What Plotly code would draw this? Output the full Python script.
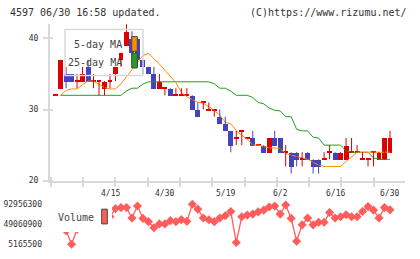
import plotly.graph_objects as go

# ---------------- data ----------------
dates = ["4/1","4/2","4/3","4/4","4/7","4/8","4/9","4/10","4/11","4/14","4/15","4/16","4/17","4/18","4/21","4/22","4/23","4/24","4/25","4/28","4/30",
         "5/1","5/2","5/7","5/8","5/9","5/12","5/13","5/14","5/15","5/16","5/19","5/20","5/21","5/22","5/23","5/26","5/27","5/28","5/29","5/30",
         "6/2","6/3","6/4","6/5","6/6","6/9","6/10","6/11","6/12","6/13","6/16","6/17","6/18","6/19","6/20","6/23","6/24","6/25","6/26","6/27","6/30"]

opens = [32,33,35,35,34,34,36,34,34,33, 34,35,37,39,40,40,37,36,35,33,
         33,33,32,32,32,32,30,31,30,30, 29,28,27,26,27,26,26,25,25,24,
         26,26,24,24,24,23,24,23,23,23, 24,24,23,23,24,24,23,23,24,23,
         23,24]
highs = [32,37,36,35,35,36,37,35,34,34, 35,36,38,42,41,40,37,36,36,35,
         33,33,33,33,33,32,31,31,31,30, 30,29,27,27,27,26,27,25,25,26,
         27,26,25,24,24,24,24,23,23,24, 25,24,24,26,26,25,24,23,24,24,
         26,27]
lows = [32,33,33,34,33,34,34,33,32,32, 33,34,36,39,37,36,35,35,33,33,
        32,32,32,32,32,30,29,30,30,29, 28,27,24,25,25,26,25,25,24,24,
        25,24,22,21,22,22,23,21,21,23, 23,23,23,23,24,24,23,22,22,23,
        23,24]
closes = [32,37,34,34,34,35,34,34,34,34, 34,36,38,41,38,37,36,35,33,34,
          33,32,32,32,32,30,29,31,30,30, 28,27,25,26,27,26,25,25,24,26,
          25,24,24,22,23,23,23,22,22,23, 24,23,24,25,24,24,23,23,24,24,
          26,26]

ma5 = [None,32.0,32.7,32.9,32.9,33.5,34.0,34.0,33.6,33.1,
       32.9,32.9,33.6,34.6,35.6,36.6,37.6,37.9,37.2,36.4,
       35.5,34.6,33.8,32.4,31.8,31.4,31.0,30.9,30.4,29.9,
       29.2,28.2,28.0,27.0,26.4,25.8,25.0,25.0,24.8,24.6,
       24.6,24.5,23.8,23.6,23.3,23.2,23.0,22.6,22.2,22.0,
       22.0,22.0,22.0,22.7,23.4,24.0,24.0,24.0,24.0,24.0,
       24.0,24.0]
ma25 = [None,32.0,32.0,32.0,32.0,32.0,32.0,32.0,32.0,32.0,
        32.0,32.0,32.0,32.6,33.0,33.0,33.6,33.9,33.9,33.9,
        33.9,33.9,33.9,33.9,33.9,33.9,33.9,33.9,33.9,33.6,
        33.0,33.0,32.6,32.0,32.0,32.0,31.7,31.0,30.8,30.2,
        29.9,29.8,29.0,29.0,27.2,27.0,27.0,26.1,26.0,25.0,
        25.0,25.0,25.0,24.2,24.0,24.0,24.0,24.0,23.2,23.0,
        23.0,23.0]

volume = [70000000,85000000,35000000,5165500,38000000,65000000,72000000,58000000,62000000,52000000,
          66000000,83500000,85600000,85600000,62800000,89300000,61900000,54800000,41200000,49800000,
          49800000,56900000,54800000,59100000,55400000,92956300,82200000,62800000,59000000,54800000,
          62800000,67700000,77000000,8800000,65600000,69200000,71400000,76300000,80000000,87100000,
          89300000,71400000,91400000,61900000,11600000,47700000,62800000,47700000,53300000,53300000,
          74800000,62800000,65600000,69900000,65600000,65600000,77000000,87800000,80000000,62800000,
          85600000,80700000]

label_dates = ["4/15", "4/30", "5/19", "6/2", "6/16", "6/30"]
price_ticks = [20, 30, 40]

# ---------------- style ----------------
W, H = 420, 259
FONT = "DejaVu Sans Mono"
RED = "#dd0000"
BLUE = "#4343bb"
ORANGE = "#ff8c00"
GREEN = "#1fa01f"
VOLC = "#ff5c5c"
AXC = "#d9d9d9"
TXT = "#333333"

PX0, PX1 = 50, 405
DAY0, DAYW = 55.1, 5.49
MAIN_TOP, MAIN_BOT = 24, 184.2
VOL_TOP, VOL_BOT = 203, 256

def px2idx(px):
    return (px - DAY0) / DAYW

def py(p):
    return 1 - p / H

idx = list(range(len(dates)))
x_range = [px2idx(PX0), px2idx(PX1)]
tick_idx = [px2idx(50.7 + 32.3 * k) for k in range(12)]

colors = [RED if c >= o else BLUE for o, c in zip(opens, closes)]
bases = [min(o, c) for o, c in zip(opens, closes)]
heights = [max(abs(c - o), 0.14) for o, c in zip(opens, closes)]

fig = go.Figure()

fig.add_trace(go.Scatter(x=idx, y=ma25, mode="lines", line=dict(color=GREEN, width=1),
                         xaxis="x", yaxis="y", hoverinfo="skip"))
fig.add_trace(go.Scatter(x=idx, y=ma5, mode="lines", line=dict(color=ORANGE, width=1),
                         xaxis="x", yaxis="y", hoverinfo="skip"))

for col in (RED, BLUE):
    wx, wy = [], []
    for i in idx:
        if colors[i] == col:
            wx += [i, i, None]
            wy += [lows[i], highs[i], None]
    fig.add_trace(go.Scatter(x=wx, y=wy, mode="lines", line=dict(color=col, width=1),
                             xaxis="x", yaxis="y", hoverinfo="skip"))

fig.add_trace(go.Bar(x=idx, y=heights, base=bases, width=0.9,
                     marker=dict(color=colors, line=dict(width=0)),
                     xaxis="x", yaxis="y"))

fig.add_trace(go.Scatter(x=idx, y=volume, mode="lines+markers",
                         line=dict(color=VOLC, width=1.3),
                         marker=dict(symbol="diamond", size=7, color=VOLC),
                         xaxis="x2", yaxis="y2", cliponaxis=False))

vmin, vmax = min(volume), max(volume)
vol_ticks = [vmin, (vmin + vmax) / 2, vmax]
vpp = (vmax - vmin) / (249 - 208.3)
vol_range = [vmin - (VOL_BOT - 249) * vpp, vmin + (249 - VOL_TOP) * vpp]

dom_x = [PX0 / W, PX1 / W]

fig.update_layout(
    width=W, height=H, margin=dict(l=0, r=0, t=0, b=0), autosize=False,
    paper_bgcolor="white", plot_bgcolor="rgba(0,0,0,0)",
    showlegend=False, bargap=0,
    font=dict(family=FONT, size=8, color=TXT),
    xaxis=dict(domain=dom_x, range=x_range, anchor="y", showline=True, linecolor=AXC, linewidth=2,
               showgrid=False, zeroline=False, tickmode="array", tickvals=tick_idx, showticklabels=False,
               ticks="outside", ticklen=4, tickcolor=AXC, tickwidth=1.5,
               minor=dict(tickmode="array", tickvals=tick_idx, ticks="inside", ticklen=4,
                          tickcolor=AXC, tickwidth=1.5, showgrid=False)),
    yaxis=dict(domain=[py(MAIN_BOT), py(MAIN_TOP)], range=[20, 20 + (MAIN_BOT - MAIN_TOP) / 7.25],
               anchor="x", showline=True, linecolor=AXC, linewidth=2, showgrid=False, zeroline=False,
               tickmode="array", tickvals=price_ticks, ticks="outside", ticklen=5, tickcolor=AXC, tickwidth=1.5,
               ticklabelstandoff=3, tickfont=dict(family=FONT, size=8, color=TXT),
               minor=dict(tickmode="array", tickvals=price_ticks, ticks="inside", ticklen=3,
                          tickcolor=AXC, tickwidth=1.5, showgrid=False)),
    xaxis2=dict(domain=dom_x, range=x_range, anchor="y2", visible=False),
    yaxis2=dict(domain=[py(VOL_BOT), py(VOL_TOP)], range=vol_range, anchor="x2",
                showline=False, showgrid=False, zeroline=False, ticks="",
                tickmode="array", tickvals=vol_ticks, ticktext=[str(int(v)) for v in vol_ticks],
                ticklabelstandoff=7, tickfont=dict(family=FONT, size=8, color=TXT)),
)

ann = []
ann.append(dict(text="4597 06/30 16:58 updated.", x=8 / W, y=py(13), xref="paper", yref="paper",
                xanchor="left", yanchor="middle", showarrow=False, font=dict(family=FONT, size=10, color=TXT)))
ann.append(dict(text="(C)https://www.rizumu.net/", x=409 / W, y=py(13), xref="paper", yref="paper",
                xanchor="right", yanchor="middle", showarrow=False, font=dict(family=FONT, size=10, color=TXT)))
for d in label_dates:
    ann.append(dict(text=d, x=dates.index(d), y=py(197), xref="x", yref="paper",
                    xanchor="center", yanchor="middle", showarrow=False,
                    font=dict(family=FONT, size=8, color=TXT)))
ann.append(dict(text="5-day MA", x=124 / W, y=py(45.7), xref="paper", yref="paper",
                xanchor="right", yanchor="middle", showarrow=False, font=dict(family=FONT, size=10, color="#444")))
ann.append(dict(text="25-day MA", x=124 / W, y=py(63.3), xref="paper", yref="paper",
                xanchor="right", yanchor="middle", showarrow=False, font=dict(family=FONT, size=10, color="#444")))
ann.append(dict(text="Volume", x=96 / W, y=py(222), xref="paper", yref="paper",
                xanchor="right", yanchor="middle", showarrow=False, font=dict(family=FONT, size=10, color="#444")))

def rect(x0, y0, x1, y1, fill, line_color, lw):
    return dict(type="rect", xref="paper", yref="paper", x0=x0 / W, x1=x1 / W, y0=py(y1), y1=py(y0),
                fillcolor=fill, line=dict(color=line_color, width=lw), layer="above")

shapes = [
    rect(65, 30, 143, 77, "rgba(0,0,0,0)", AXC, 1.5),
    rect(131.7, 37.3, 137.3, 52.3, ORANGE, "#444", 1),
    rect(131.7, 54.3, 137.3, 69.3, GREEN, "#444", 1),
    rect(51, 203, 112, 236.5, "white", "white", 0),
    rect(101.7, 213.3, 107.3, 228.3, VOLC, "#444", 1),
]

fig.update_layout(annotations=ann, shapes=shapes)
fig.write_html("out.html")
